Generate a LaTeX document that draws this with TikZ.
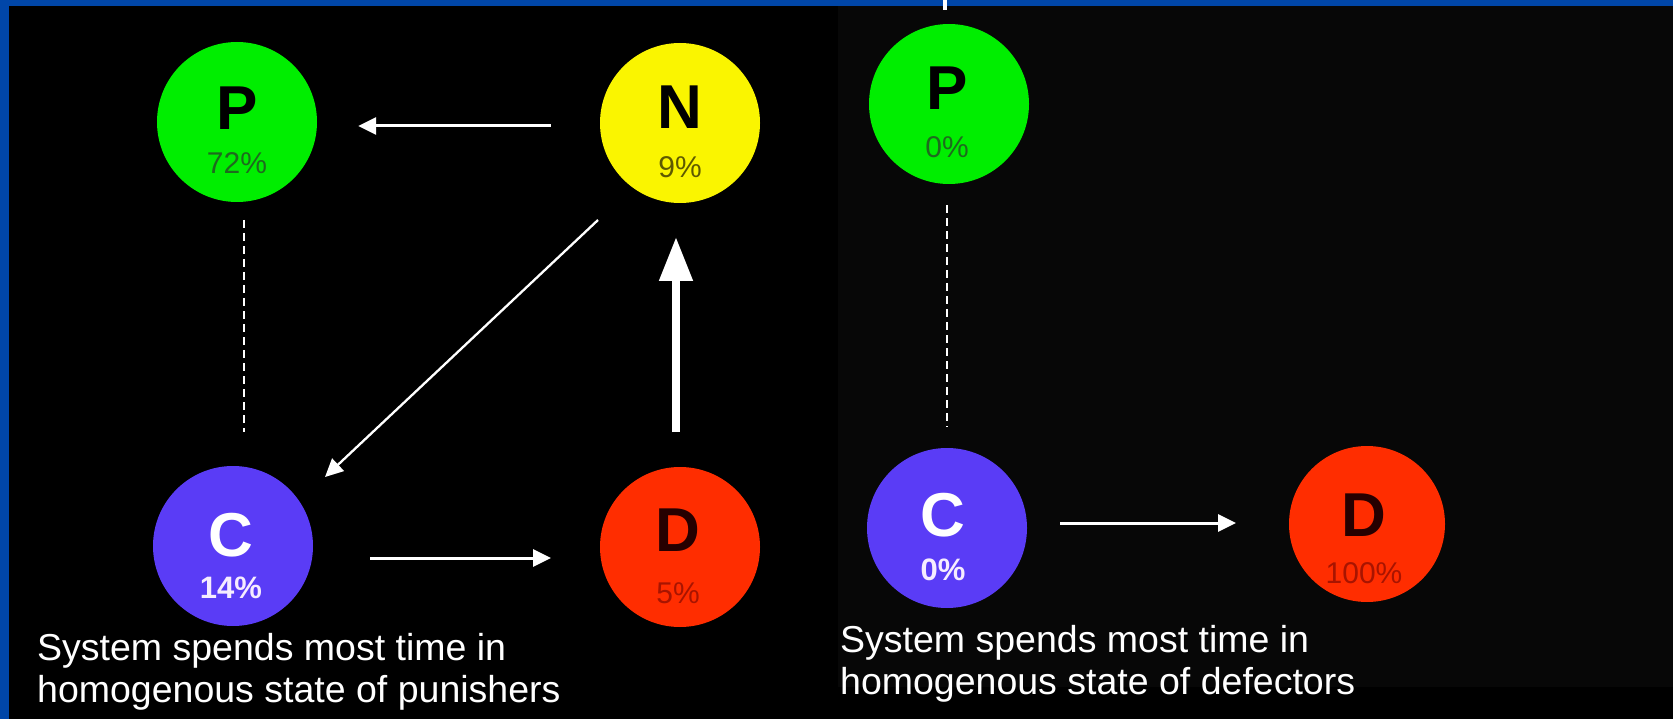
\documentclass[tikz,border=0pt]{standalone}
\usepackage{fontspec}
\setmainfont{Liberation Sans}
\usetikzlibrary{arrows.meta,calc}
\definecolor{bordblue}{HTML}{0046A8}
\definecolor{panelgray}{HTML}{070707}
\definecolor{pgreen}{HTML}{00EE00}
\definecolor{pyellow}{HTML}{FAF500}
\definecolor{ppurple}{HTML}{5A3CF6}
\definecolor{pred}{HTML}{FF2D00}
\definecolor{gtxt}{HTML}{1E6A1E}
\definecolor{ytxt}{HTML}{5E5A00}
\definecolor{ctxt}{HTML}{F6ECFF}
\definecolor{rtxt}{HTML}{A81400}
\tikzset{
  state/.style={circle, minimum size=160pt, inner sep=0pt},
  bigletter/.style={inner sep=0pt, font=\fontsize{62}{62}\selectfont\bfseries},
  pct/.style={inner sep=0pt, font=\fontsize{30}{30}\selectfont},
  pctbold/.style={inner sep=0pt, font=\fontsize{31}{31}\selectfont\bfseries},
  thinarrow/.style={draw=white, line width=3pt, -{Triangle[length=18pt,width=17pt]}},
  thickarrow/.style={draw=white, line width=8pt, -{Triangle[length=44pt,width=32pt]}},
  dashlink/.style={draw=white, line width=2pt, dash pattern=on 8pt off 5pt},
  caption/.style={inner sep=0pt, anchor=base west, text=white, font=\fontsize{37.5}{42}\selectfont}
}
\begin{document}
\begin{tikzpicture}[x=1pt,y=-1pt]
\useasboundingbox (0,0) rectangle (1673,719);
\fill[black] (0,0) rectangle (1673,719);
\fill[panelgray] (838,6) rectangle (1673,687);
\fill[bordblue] (0,0) rectangle (1673,6);
\fill[bordblue] (0,0) rectangle (9,719);
\fill[white] (943,0) rectangle (947,10);

% left diagram
\node[state, fill=pgreen] (P1) at (237,122) {};
\node[state, fill=pyellow] (N) at (680,123) {};
\node[state, fill=ppurple] (C1) at (233,546) {};
\node[state, fill=pred] (D1) at (680,547) {};

\node[bigletter, text=black] (P1l) at ($(P1)+(0,-14)$) {P};
\node[pct, text=gtxt] (P1p) at ($(P1)+(0,41)$) {72\%};
\node[bigletter, text=black] (Nl) at ($(N)+(0,-16)$) {N};
\node[pct, text=ytxt] (Np) at ($(N)+(0,44)$) {9\%};
\node[bigletter, text=white] (C1l) at ($(C1)+(-2,-11)$) {C};
\node[pctbold, text=ctxt] (C1p) at ($(C1)+(-2,42)$) {14\%};
\node[bigletter, text=black!85!red] (D1l) at ($(D1)+(-2,-17)$) {D};
\node[pct, text=rtxt] (D1p) at ($(D1)+(-2,46)$) {5\%};

\draw[thinarrow] ($(N.west)+(-49,3)$) -- ($(P1.east)+(41,4)$);
\draw[thinarrow, line width=2.3pt] ($(N)+(-82,97)$) -- ($(C1)+(92,-69)$);
\draw[thickarrow] ($(D1)+(-4,-115)$) -- ($(N)+(-4,114)$);
\draw[thinarrow] ($(C1)+(137,12)$) -- ($(D1)+(-129,11)$);
\draw[dashlink] ($(P1)+(7,98)$) -- ($(C1)+(11,-114)$);

% right diagram
\node[state, fill=pgreen] (P2) at (949,104) {};
\node[state, fill=ppurple] (C2) at (947,528) {};
\node[state, fill=pred, minimum size=156pt] (D2) at (1367,524) {};

\node[bigletter, text=black] (P2l) at ($(P2)+(-2,-16)$) {P};
\node[pct, text=gtxt] (P2p) at ($(P2)+(-2,43)$) {0\%};
\node[bigletter, text=white] (C2l) at ($(C2)+(-4,-13)$) {C};
\node[pctbold, text=ctxt] (C2p) at ($(C2)+(-4,42)$) {0\%};
\node[bigletter, text=black!85!red] (D2l) at ($(D2)+(-3,-9)$) {D};
\node[pct, text=rtxt] (D2p) at ($(D2)+(-3,49)$) {100\%};

\draw[thinarrow] ($(C2)+(113,-5)$) -- ($(D2)+(-131,-1)$);
\draw[dashlink] ($(P2)+(-2,101)$) -- ($(C2)+(0,-101)$);

% captions
\node[caption] (capL1) at (37,660) {System spends most time in};
\node[caption] (capL2) at (37,702) {homogenous state of punishers};
\node[caption] (capR1) at (840,652) {System spends most time in};
\node[caption] (capR2) at (840,694) {homogenous state of defectors};
\end{tikzpicture}
\end{document}
